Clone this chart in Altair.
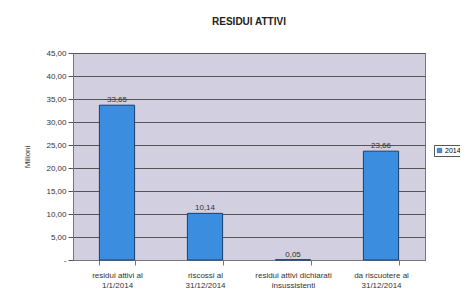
import altair as alt
import pandas as pd

categories = ["residui attivi al|1/1/2014", "riscossi al|31/12/2014",
              "residui attivi dichiarati|insussistenti", "da riscuotere al|31/12/2014"]
values = [33.65, 10.14, 0.05, 23.66]
series = ["2014"] * 4
labels = ["33,65", "10,14", "0,05", "23,66"]
y_ticks = [0, 5, 10, 15, 20, 25, 30, 35, 40, 45]

df = pd.DataFrame({"cat": categories, "val": values, "serie": series, "lab": labels})

x = alt.X("cat:N", sort=categories, title=None,
          scale=alt.Scale(paddingInner=0.6, paddingOuter=0.3),
          axis=alt.Axis(labelAngle=0, labelExpr="split(datum.label, '|')",
                        labelFontSize=8, labelColor="#333", labelFont="Liberation Sans",
                        labelLineHeight=10, domainColor="#777", tickColor="#777",
                        tickBand="extent", labelPadding=6))
y = alt.Y("val:Q", title="Milioni",
          scale=alt.Scale(domain=[0, 45], nice=False, zero=True),
          axis=alt.Axis(values=y_ticks, tickCount=10,
                        labelExpr="datum.value == 0 ? '-' : replace(format(datum.value, '.2f'), '.', ',')",
                        labelOverlap=False,
                        labelFontSize=8, labelColor="#333", labelFont="Liberation Sans",
                        titleFontSize=8, titleFont="Liberation Sans", titleFontWeight="normal",
                        titleColor="#333", titlePadding=14,
                        grid=True, gridColor="#555", gridWidth=1,
                        domainColor="#777", tickColor="#555", tickSize=5))

base = alt.Chart(df).encode(x=x, y=y)

bars = base.mark_bar(stroke="#1a3f70", strokeWidth=1).encode(
    color=alt.Color("serie:N", scale=alt.Scale(range=["#3b8de0"]), title=None,
                    legend=alt.Legend(orient="none", legendX=361, legendY=92,
                                      symbolType="square", symbolSize=20,
                                      labelFontSize=7, labelFont="Liberation Sans",
                                      symbolStrokeColor="#1a3f70", symbolStrokeWidth=0.5,
                                      labelOffset=2,
                                      strokeColor="#555", padding=2,
                                      fillColor="white"))
)
text = base.mark_text(dy=-5, fontSize=8, font="Liberation Sans", color="#333").encode(text="lab:N")

chart = (bars + text).properties(
    width=352, height=207,
    title=alt.Title("RESIDUI ATTIVI", fontSize=10, font="Liberation Sans", fontWeight="bold",
                    color="#222", offset=22, anchor="middle"),
    autosize=alt.AutoSizeParams(type="none"),
    padding={"left": 65, "top": 45, "right": 35, "bottom": 35},
    background="white"
).configure_view(fill="#d2cfe0", stroke="#777")

chart.save("out.html", embed_options={"renderer": "svg", "actions": False})
